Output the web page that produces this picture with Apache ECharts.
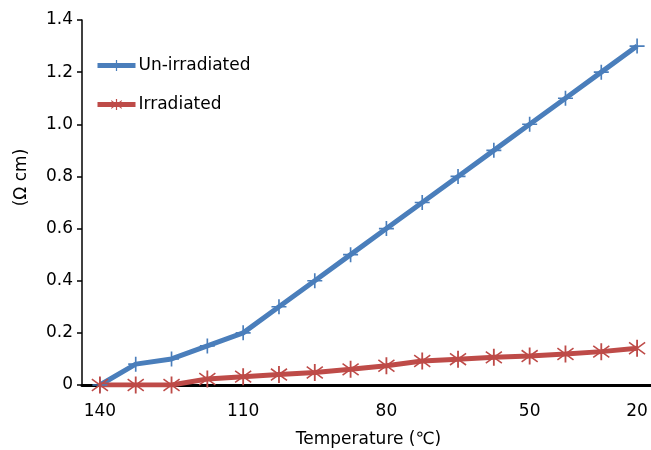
<!DOCTYPE html>
<html>
<head>
<meta charset="utf-8">
<script src="https://cdn.jsdelivr.net/npm/echarts@6/dist/echarts.min.js"></script>
<style>
  html, body { margin: 0; padding: 0; background: #fff; }
  #chart { width: 651px; height: 450px; }
</style>
</head>
<body>
<div id="chart"></div>
<script>
// Temperature steps (cooling run, °C)
const temperatures = ['140', '135', '130', '125', '110', '105', '100', '90', '80', '75', '70', '60', '50', '40', '30', '20'];
// Resistivity readings
const unIrradiated = [0, 0.08, 0.1, 0.15, 0.2, 0.3, 0.4, 0.5, 0.6, 0.7, 0.8, 0.9, 1.0, 1.1, 1.2, 1.3];
const irradiated = [0, 0, 0, 0.023, 0.032, 0.04, 0.048, 0.06, 0.074, 0.092, 0.099, 0.106, 0.111, 0.119, 0.128, 0.141];
// Category positions that carry a tick label
const labelledIndex = [0, 4, 8, 12, 15];

const FONT = 'DejaVu Sans';
const FS = 17;
const BLUE = '#4a7ebb';
const RED = '#be4b48';

// '+' marker and six-armed star marker as filled outlines
const plusPath = 'path://M-1.1,-10 L1.1,-10 L1.1,10 L-1.1,10 Z M-10,-1.1 L10,-1.1 L10,1.1 L-10,1.1 Z';
const starPath = 'path://M-1,-10 L1,-10 L1,10 L-1,10 Z ' +
  'M-9.3,-6.1 L-8.3,-7.6 L9.3,6.1 L8.3,7.6 Z ' +
  'M8.3,-7.6 L9.3,-6.1 L-8.3,7.6 L-9.3,6.1 Z';

const chart = echarts.init(document.getElementById('chart'));
chart.setOption({
  animation: false,
  textStyle: { fontFamily: FONT },
  grid: { left: 82, right: -4, top: 20, bottom: 65, containLabel: false, outerBoundsMode: 'none' },
  legend: {
    orient: 'vertical',
    left: 90,
    top: 52,
    itemGap: 22,
    itemWidth: 38,
    itemHeight: 14,
    textStyle: { fontFamily: FONT, fontSize: FS, color: '#000', padding: [0, 0, 0, -2] },
    data: [
      { name: 'Un-irradiated', lineStyle: { width: 5, color: BLUE } },
      { name: 'Irradiated', lineStyle: { width: 5, color: RED } }
    ]
  },
  xAxis: {
    type: 'category',
    data: temperatures,
    boundaryGap: true,
    name: 'Temperature (℃)',
    nameLocation: 'middle',
    nameGap: 46,
    nameTextStyle: { fontFamily: FONT, fontSize: FS, color: '#000' },
    axisLine: { lineStyle: { color: '#000', width: 3 } },
    axisTick: { show: false },
    axisLabel: {
      interval: (i) => labelledIndex.includes(i),
      margin: 18,
      fontFamily: FONT,
      fontSize: FS,
      color: '#000'
    },
    splitLine: { show: false }
  },
  yAxis: {
    type: 'value',
    min: 0,
    max: 1.4,
    interval: 0.2,
    name: '(Ω cm)',
    nameLocation: 'middle',
    nameGap: 52,
    nameRotate: 90,
    nameTextStyle: { fontFamily: FONT, fontSize: FS, color: '#000', padding: [0, 0, 0, 50] },
    axisLine: { show: true, lineStyle: { color: '#000', width: 1.5 } },
    axisTick: { show: true, inside: false, length: 5, lineStyle: { color: '#000', width: 1.5 } },
    axisLabel: {
      margin: 9,
      fontFamily: FONT,
      fontSize: FS,
      color: '#000',
      formatter: (v) => (v === 0 ? '0' : v.toFixed(1))
    },
    splitLine: { show: false }
  },
  series: [
    {
      name: 'Un-irradiated',
      type: 'line',
      data: unIrradiated,
      symbol: plusPath,
      symbolSize: 15,
      showAllSymbol: true,
      lineStyle: { color: BLUE, width: 5 },
      itemStyle: { color: BLUE }
    },
    {
      name: 'Irradiated',
      type: 'line',
      data: irradiated,
      symbol: starPath,
      symbolSize: 17,
      showAllSymbol: true,
      lineStyle: { color: RED, width: 5 },
      itemStyle: { color: RED }
    }
  ]
});
</script>
</body>
</html>
